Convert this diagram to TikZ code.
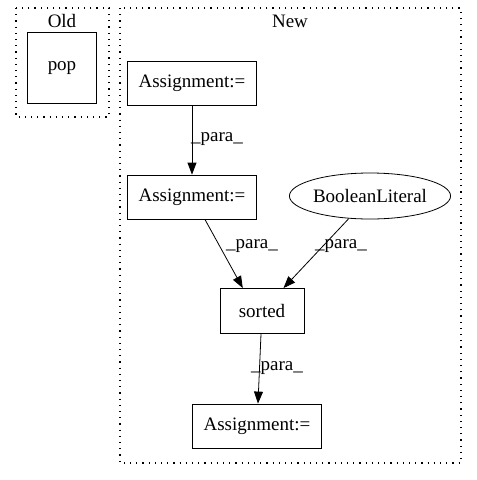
\documentclass[tikz,border=0pt]{standalone}
\usepackage{fontspec}
\setmainfont{Liberation Serif}
\usetikzlibrary{arrows.meta,shapes.geometric}
\tikzset{
  stmt/.style={draw,rectangle,minimum width=129pt,minimum height=44pt,inner sep=2pt},
  grp/.style={draw,dash pattern=on 1.2pt off 5pt,line width=1.2pt},
  flow/.style={-{Triangle[length=12pt,width=9pt]},line width=0.8pt},
  lbl/.style={inner sep=1pt}
}
\begin{document}
\begin{tikzpicture}[x=1pt,y=-1pt,font=\fontsize{19}{22}\selectfont,line width=0.8pt]
\useasboundingbox (0,0) rectangle (477,480);
% clusters
\draw[grp] (16,8) rectangle (109,117);
\node (oldlbl) at (62,21) {Old};
\draw[grp] (120,8) rectangle (461,463);
\node (newlbl) at (290,21) {New};
% old
\node[draw,minimum width=69pt,minimum height=71pt] (pop) at (62,68) {pop};
% new
\node[stmt] (asgA) at (192,83) {Assignment:=};
\node[stmt] (asgB) at (192,197) {Assignment:=};
\node[draw,ellipse,minimum width=156pt,minimum height=46pt,inner sep=0pt] (bool) at (370,196) {BooleanLiteral};
\node[draw,minimum width=84pt,minimum height=45pt] (srt) at (262,311) {sorted};
\node[stmt] (asgC) at (257,426) {Assignment:=};
\draw[flow] (asgA) -- (asgB);
\node[lbl] (p1) at (217,139) {\_para\_};
\draw[flow] (asgB.300) -- (srt.130);
\draw[flow] (bool) -- (srt);
\node[lbl] (p2) at (252,246) {\_para\_};
\node[lbl] (p3) at (341,246) {\_para\_};
\draw[flow] (srt) -- (asgC);
\node[lbl] (p4) at (277,368) {\_para\_};
\end{tikzpicture}
\end{document}
